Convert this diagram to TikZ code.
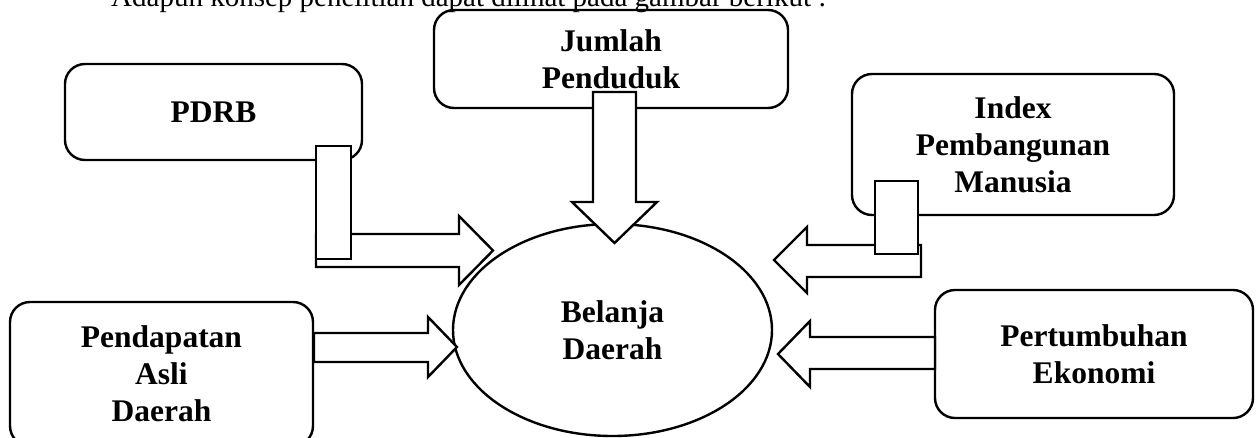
\documentclass[tikz,border=0pt]{standalone}
\usepackage{fontspec}
\setmainfont{Liberation Serif}
\usetikzlibrary{shapes.geometric}
\begin{document}
\begin{tikzpicture}[x=1pt,y=-1pt,
  line width=2.4pt, line join=miter,
  lbl/.style={font=\fontsize{31.5}{37}\selectfont\bfseries, align=center},
  rbox/.style={draw, rounded corners=20pt, lbl, inner sep=0pt},
  oval/.style={draw, ellipse, lbl, inner sep=0pt},
  barrow/.style={draw, fill=white},
  tab/.style={draw, fill=white}]
\useasboundingbox (0,0) rectangle (1258,437);
\clip (0,0) rectangle (1258,437);
\node[anchor=base west, font=\fontsize{29}{34}\selectfont, inner sep=0pt] (intro) at (110,6.5) {Adapun konsep penelitian dapat dilihat pada gambar berikut :};
% centre ellipse
\node[oval, minimum width=319pt, minimum height=212pt] (bd) at (612.5,330) {Belanja\\Daerah};
% boxes
\node[rbox, minimum width=354pt, minimum height=98pt] (jp) at (611,59) {Jumlah\\Penduduk};
\node[rbox, minimum width=297pt, minimum height=96pt] (pdrb) at (213.5,112) {PDRB};
\node[rbox, minimum width=322pt, minimum height=141pt] (ipm) at (1013,144.5) {Index\\Pembangunan\\Manusia};
\node[rbox, minimum width=303pt, minimum height=144pt] (pad) at (161.5,374) {Pendapatan\\Asli\\Daerah};
\node[rbox, minimum width=318pt, minimum height=128pt] (pe) at (1094,354) {Pertumbuhan\\Ekonomi};
% block arrows
\draw[barrow] (316,234) -- (459,234) -- (459,216) -- (493,250.5) -- (459,285) -- (459,267) -- (316,267) -- cycle;
\draw[barrow] (314,333) -- (428,333) -- (428,317) -- (457,347) -- (428,377) -- (428,362) -- (314,362) -- cycle;
\draw[barrow] (593,92) -- (636,92) -- (636,202) -- (657,202) -- (614.5,243) -- (572,202) -- (593,202) -- cycle;
\draw[barrow] (921,245) -- (807,245) -- (807,227) -- (774,260) -- (807,293) -- (807,277) -- (921,277) -- cycle;
\draw[barrow] (935,337) -- (810,337) -- (810,321) -- (778,354) -- (810,387) -- (810,369) -- (935,369) -- cycle;
% small tabs
\draw[tab] (316,146) rectangle (351,259);
\draw[tab] (875,181) rectangle (918,254);
\end{tikzpicture}
\end{document}
